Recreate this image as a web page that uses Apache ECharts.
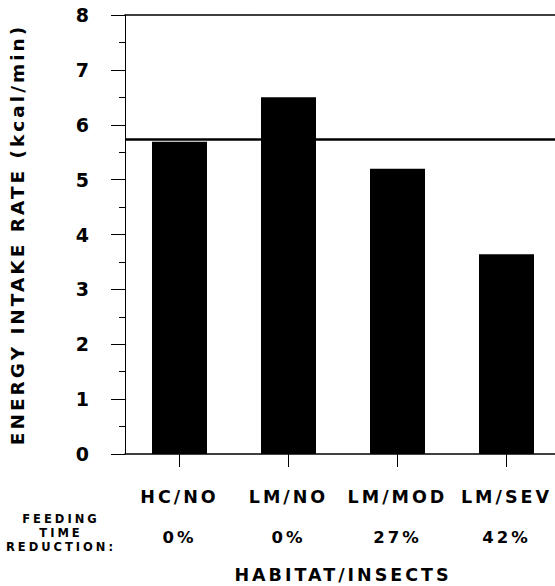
<!DOCTYPE html>
<html>
<head>
<meta charset="utf-8">
<script src="https://cdn.jsdelivr.net/npm/echarts@6/dist/echarts.min.js"></script>
<style>
  html, body { margin: 0; padding: 0; background: #fff; }
  #chart { width: 555px; height: 586px; }
  #chart text { letter-spacing: 3px; }
</style>
</head>
<body>
<div id="chart"></div>
<script>
// ---- data ----
var categories = ['HC/NO', 'LM/NO', 'LM/MOD', 'LM/SEV'];
var intakeRates = [5.69, 6.50, 5.20, 3.64];
var feedingReductions = ['0%', '0%', '27%', '42%'];
var referenceRate = 5.74;
var yMin = 0, yMax = 8, yStep = 1;

var FONT = 'DejaVu Sans';
var chart = echarts.init(document.getElementById('chart'), null, { renderer: 'svg' });

chart.setOption({
  animation: false,
  backgroundColor: '#ffffff',
  grid: { left: 125, right: -6, top: 15, bottom: 132, containLabel: false, outerBoundsMode: 'none' },
  xAxis: [
    {
      type: 'category',
      data: categories,
      position: 'bottom',
      axisLine: { show: true, lineStyle: { color: '#000', width: 1.5 } },
      axisTick: { show: true, alignWithLabel: true, length: 13, lineStyle: { color: '#000', width: 1 } },
      axisLabel: { color: '#000', fontFamily: FONT, fontWeight: 'bold', fontSize: 17.5, margin: 43, verticalAlign: 'middle' },
      name: 'HABITAT/INSECTS',
      nameLocation: 'middle',
      nameGap: 121,
      nameTextStyle: { color: '#000', fontFamily: FONT, fontWeight: 'bold', fontSize: 17.5, verticalAlign: 'middle' }
    },
    {
      type: 'category',
      data: feedingReductions,
      position: 'bottom',
      axisLine: { show: false },
      axisTick: { show: false },
      axisLabel: { color: '#000', fontFamily: FONT, fontWeight: 'bold', fontSize: 16.5, margin: 83, verticalAlign: 'middle' }
    },
    {
      type: 'category',
      data: categories,
      position: 'top',
      axisLine: { show: true, lineStyle: { color: '#000', width: 1.5 } },
      axisTick: { show: false },
      axisLabel: { show: false }
    }
  ],
  yAxis: {
    type: 'value',
    min: yMin,
    max: yMax,
    interval: yStep,
    splitLine: { show: false },
    axisLine: { show: true, lineStyle: { color: '#000', width: 1 } },
    axisTick: { show: true, inside: false, length: 14, lineStyle: { color: '#000', width: 1 } },
    minorTick: { show: true, splitNumber: 2, length: 6, lineStyle: { color: '#000', width: 1 } },
    axisLabel: { color: '#000', fontFamily: FONT, fontWeight: 'bold', fontSize: 19, margin: 33 },
    name: 'ENERGY INTAKE RATE (kcal/min)',
    nameLocation: 'middle',
    nameRotate: 90,
    nameGap: 108,
    nameTextStyle: { color: '#000', fontFamily: FONT, fontWeight: 'bold', fontSize: 18.5, verticalAlign: 'middle' }
  },
  graphic: [
    {
      type: 'text',
      x: 61,
      y: 533,
      style: {
        text: 'FEEDING\nTIME\nREDUCTION:',
        fill: '#000',
        font: 'bold 11.5px "DejaVu Sans"',
        lineHeight: 14,
        align: 'center',
        verticalAlign: 'middle'
      }
    }
  ],
  series: [
    {
      type: 'bar',
      xAxisIndex: 0,
      data: intakeRates,
      barWidth: 55,
      itemStyle: { color: '#000' },
      markLine: {
        silent: true,
        symbol: ['none', 'none'],
        label: { show: false },
        lineStyle: { color: '#000', width: 2.5, type: 'solid' },
        data: [{ yAxis: referenceRate }]
      }
    }
  ]
});
</script>
</body>
</html>
